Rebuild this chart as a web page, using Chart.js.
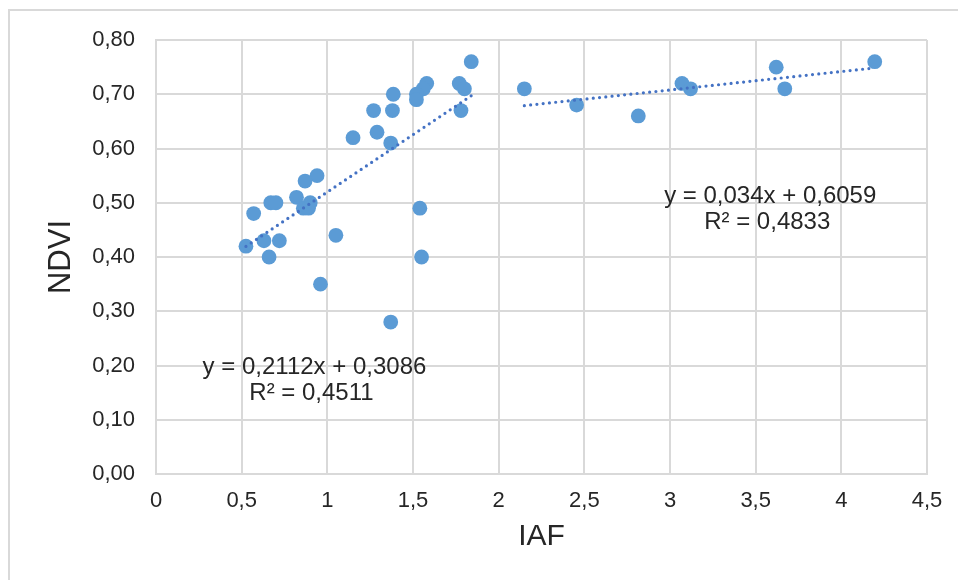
<!DOCTYPE html>
<html>
<head>
<meta charset="utf-8">
<script src="https://cdn.jsdelivr.net/npm/chart.js@4.4.1/dist/chart.umd.min.js"></script>
<style>
    html, body { margin: 0; padding: 0; background: #ffffff; }
    #wrap { width: 958px; height: 580px; position: relative; }
</style>
</head>
<body>
<div id="wrap"><canvas id="chart" width="958" height="580"></canvas></div>
<script>
// left group (IAF < 2)
const iafLow = [1.84, 1.58, 1.56, 1.52, 1.52, 1.385, 1.27, 1.38, 1.77, 1.80, 1.78,
    1.15, 1.29, 1.37, 0.94, 0.87, 0.82, 0.90, 0.86, 0.89, 0.67, 0.70, 0.57, 1.54,
    0.525, 0.63, 0.72, 0.66, 1.05, 1.55, 0.96, 1.37];
const ndviLow = [0.76, 0.72, 0.71, 0.70, 0.69, 0.70, 0.67, 0.67, 0.72, 0.71, 0.67,
    0.62, 0.63, 0.61, 0.55, 0.54, 0.51, 0.50, 0.49, 0.49, 0.50, 0.50, 0.48, 0.49,
    0.42, 0.43, 0.43, 0.40, 0.44, 0.40, 0.35, 0.28];

// right group (IAF > 2)
const iafHigh = [2.15, 2.455, 2.815, 3.07, 3.12, 3.62, 3.67, 4.195];
const ndviHigh = [0.71, 0.68, 0.66, 0.72, 0.71, 0.75, 0.71, 0.76];

// trendline coefficients [slope, intercept]
const trendLow = [0.2112, 0.3086];
const trendHigh = [0.034, 0.6059];
const eqLow = ['y = 0,2112x + 0,3086', 'R² = 0,4511'];
const eqHigh = ['y = 0,034x + 0,6059', 'R² = 0,4833'];

const xTicks = ['0', '0,5', '1', '1,5', '2', '2,5', '3', '3,5', '4', '4,5'];
const yTicks = ['0,00', '0,10', '0,20', '0,30', '0,40', '0,50', '0,60', '0,70', '0,80'];

const pts = (xs, ys) => xs.map((x, i) => ({ x: x, y: ys[i] }));
function trend(xs, c) {
    const lo = Math.min(...xs), hi = Math.max(...xs);
    return [{ x: lo, y: c[0] * lo + c[1] }, { x: hi, y: c[0] * hi + c[1] }];
}

const FONT = "'Liberation Sans', Arial, sans-serif";
const TEXT = '#262626';
const GRID = '#d9d9d9';

// outer frame + equation labels
const extras = {
    id: 'extras',
    beforeDraw(chart) {
        const ctx = chart.ctx;
        ctx.save();
        ctx.strokeStyle = GRID;
        ctx.lineWidth = 2;
        ctx.beginPath();
        ctx.moveTo(9, 580);
        ctx.lineTo(9, 10);
        ctx.lineTo(958, 10);
        ctx.stroke();
        ctx.restore();
    },
    afterDatasetsDraw(chart) {
        const ctx = chart.ctx;
        const xs = chart.scales.x, ys = chart.scales.y;
        ctx.save();
        ctx.fillStyle = TEXT;
        ctx.font = '24px ' + FONT;
        ctx.textAlign = 'center';
        ctx.textBaseline = 'middle';
        const put = (lines, ax, ay) => {
            const cx = xs.getPixelForValue(ax), cy = ys.getPixelForValue(ay);
            ctx.fillText(lines[0], cx, cy);
            ctx.fillText(lines[1], cx - 3, cy + 26);
        };
        put(eqLow, 0.925, 0.196);
        put(eqHigh, 3.585, 0.511);
        ctx.restore();
    }
};

new Chart(document.getElementById('chart'), {
    type: 'scatter',
    data: {
        datasets: [
            {
                label: 'trend low',
                type: 'line',
                data: trend(iafLow, trendLow),
                borderColor: '#4472C4',
                borderWidth: 3.2,
                borderDash: [0, 6.3],
                borderCapStyle: 'round',
                pointRadius: 0,
                order: 0
            },
            {
                label: 'trend high',
                type: 'line',
                data: trend(iafHigh, trendHigh),
                borderColor: '#4472C4',
                borderWidth: 3.2,
                borderDash: [0, 6.3],
                borderCapStyle: 'round',
                pointRadius: 0,
                order: 0
            },
            {
                label: 'NDVI',
                data: pts(iafLow, ndviLow).concat(pts(iafHigh, ndviHigh)),
                backgroundColor: '#5B9BD5',
                borderWidth: 0,
                pointRadius: 7.4,
                pointHoverRadius: 7.4,
                order: 1
            }
        ]
    },
    options: {
        responsive: false,
        animation: false,
        events: [],
        layout: { padding: { top: 40, right: 31, left: 0, bottom: 0 } },
        plugins: {
            legend: { display: false },
            tooltip: { enabled: false }
        },
        scales: {
            x: {
                type: 'linear',
                min: 0,
                max: 4.5,
                afterFit: s => { s.height = 106; },
                grid: { color: GRID, lineWidth: 2, drawTicks: false },
                border: { color: GRID, width: 2 },
                ticks: {
                    stepSize: 0.5,
                    padding: 14,
                    color: TEXT,
                    font: { family: FONT, size: 22 },
                    callback: (v, i) => xTicks[i]
                },
                title: {
                    display: true,
                    text: 'IAF',
                    color: TEXT,
                    font: { family: FONT, size: 30 },
                    padding: { top: 0, bottom: 25 }
                }
            },
            y: {
                type: 'linear',
                min: 0,
                max: 0.8,
                afterFit: s => { s.width = 156; },
                grid: { color: GRID, lineWidth: 2, drawTicks: false },
                border: { color: GRID, width: 2 },
                ticks: {
                    stepSize: 0.1,
                    padding: 21,
                    color: TEXT,
                    font: { family: FONT, size: 22 },
                    callback: (v, i) => yTicks[i]
                },
                title: {
                    display: true,
                    text: 'NDVI',
                    color: TEXT,
                    font: { family: FONT, size: 31 },
                    padding: { top: 43, bottom: 0 }
                }
            }
        }
    },
    plugins: [extras]
});
</script>
</body>
</html>
